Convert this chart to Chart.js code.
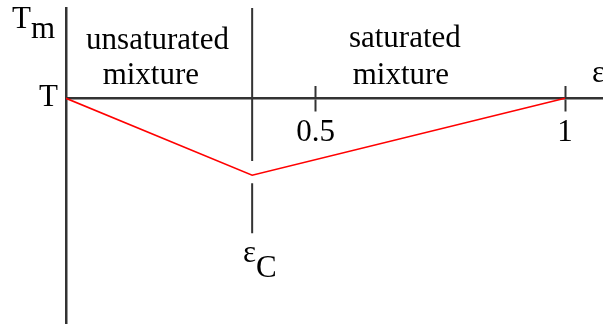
<!DOCTYPE html>
<html>
<head>
<meta charset="utf-8">
<script src="https://cdn.jsdelivr.net/npm/chart.js@4/dist/chart.umd.min.js"></script>
<style>
  html, body { margin: 0; padding: 0; background: #fff; }
  #wrap { width: 603px; height: 324px; position: relative; }
</style>
</head>
<body>
<div id="wrap"><canvas id="c"></canvas></div>
<script>
// mixing temperature T_m against mass fraction ε (sketch, T level = 0)
const epsPoints = [0, 0.373, 1];
const tmixPoints = [0, -0.307, 0];
const epsC = 0.373;
const epsCMarkerY = [0.36, -0.25, null, -0.339, -0.538];
const xTicks = [0.5, 1];
const xTickLabels = ['0.5', '1'];
const yTicks = [0];
const yTickLabels = ['T'];

const INK = '#333';
const FONT = "'Liberation Serif', 'Times New Roman', serif";
const FONT_SIZE = 31;

// annotations in data units
const notes = [
  { text: 'unsaturated', x: 0.1834, y: 0.198, align: 'center' },
  { text: 'mixture', x: 0.170, y: 0.0586, align: 'center' },
  { text: 'saturated', x: 0.679, y: 0.2045, align: 'center' },
  { text: 'mixture', x: 0.671, y: 0.0586, align: 'center' },
  { text: 'ε', x: 1.054, y: 0.0638, align: 'left' },
  { text: 'ε', sub: 'C', drop: 15, x: 0.3547, y: -0.654, align: 'left' },
  { text: 'T', sub: 'm', drop: 10, x: -0.1082, y: 0.279, align: 'left' },
];

const notesPlugin = {
  id: 'notes',
  afterDraw(chart) {
    const { ctx, scales: { x, y } } = chart;
    ctx.save();
    ctx.fillStyle = '#000';
    ctx.font = `${FONT_SIZE}px ${FONT}`;
    ctx.textBaseline = 'alphabetic';
    ctx.textAlign = 'left';
    for (const n of notes) {
      let px = x.getPixelForValue(n.x);
      const py = y.getPixelForValue(n.y);
      const mainW = ctx.measureText(n.text).width;
      const w = mainW + (n.sub ? ctx.measureText(n.sub).width : 0);
      if (n.align === 'center') px -= w / 2;
      ctx.fillText(n.text, px, py);
      if (n.sub) ctx.fillText(n.sub, px + mainW, py + n.drop);
    }
    ctx.restore();
  },
};

const setTicks = (values) => (scale) => { scale.ticks = values.map((v) => ({ value: v })); };
const noPad = (scale) => {
  scale.paddingTop = 0; scale.paddingBottom = 0;
  scale.paddingLeft = 0; scale.paddingRight = 0;
};

new Chart(document.getElementById('c'), {
  type: 'scatter',
  data: {
    datasets: [
      {
        label: 'T_m',
        data: epsPoints.map((e, i) => ({ x: e, y: tmixPoints[i] })),
        showLine: true,
        borderColor: '#ff0000',
        borderWidth: 1.6,
        pointRadius: 0,
      },
      {
        label: 'ε_C',
        data: epsCMarkerY.map((v) => ({ x: epsC, y: v })),
        showLine: true,
        spanGaps: false,
        borderColor: INK,
        borderWidth: 2,
        pointRadius: 0,
      },
    ],
  },
  options: {
    responsive: true,
    maintainAspectRatio: false,
    animation: false,
    layout: { padding: { top: 8, right: 0, bottom: 0, left: 0 } },
    plugins: { legend: { display: false }, tooltip: { enabled: false } },
    scales: {
      x: {
        type: 'linear',
        min: 0,
        max: 1.076,
        position: { y: 0 },
        afterBuildTicks: setTicks(xTicks),
        afterFit: noPad,
        ticks: {
          color: '#000',
          font: { family: FONT, size: FONT_SIZE },
          padding: 4,
          maxRotation: 0,
          callback: (v) => xTickLabels[xTicks.indexOf(v)] ?? '',
        },
        grid: { drawOnChartArea: false, drawTicks: true, tickLength: 12, tickColor: INK, tickWidth: 2 },
        border: { display: true, color: INK, width: 2.5 },
      },
      x2: {
        type: 'linear',
        axis: 'x',
        min: 0,
        max: 1.076,
        position: { y: 0 },
        afterBuildTicks: setTicks(xTicks),
        afterFit: noPad,
        ticks: { display: false },
        grid: { drawOnChartArea: false, drawTicks: true, tickLength: -12, tickColor: INK, tickWidth: 2 },
        border: { display: false },
      },
      y: {
        type: 'linear',
        min: -0.9,
        max: 0.36,
        position: 'left',
        afterBuildTicks: setTicks(yTicks),
        afterFit: (scale) => { scale.width = 66; noPad(scale); },
        ticks: {
          color: '#000',
          font: { family: FONT, size: FONT_SIZE },
          padding: 8,
          callback: (v) => yTickLabels[yTicks.indexOf(v)] ?? '',
        },
        grid: { display: false, drawTicks: false },
        border: { display: true, color: INK, width: 2.5 },
      },
    },
  },
  plugins: [notesPlugin],
});
</script>
</body>
</html>
